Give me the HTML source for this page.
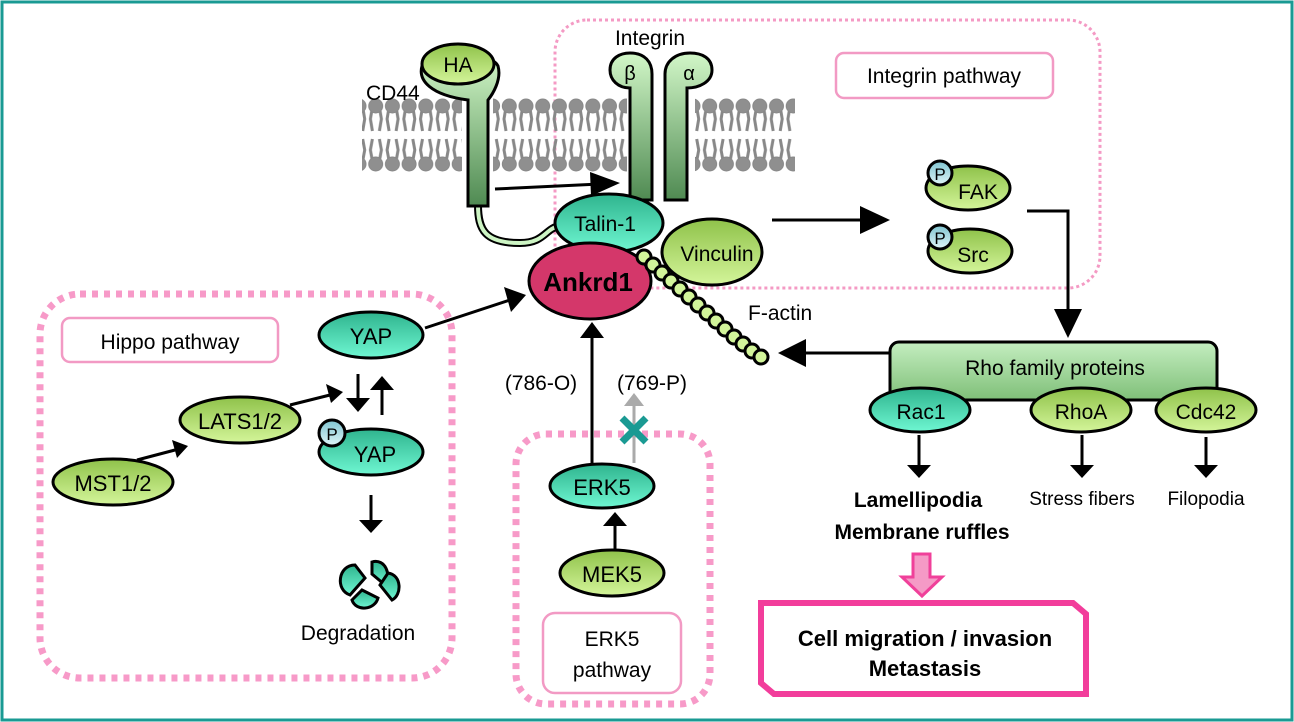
<!DOCTYPE html>
<html><head><meta charset="utf-8"><style>
html,body{margin:0;padding:0;background:#fff}
svg{display:block;font-family:"Liberation Sans",Arial,sans-serif}
</style></head><body>
<svg width="1294" height="722" viewBox="0 0 1294 722" xmlns="http://www.w3.org/2000/svg">
<defs>
<linearGradient id="gG" x1="0" y1="0" x2="0" y2="1"><stop offset="0" stop-color="#8fc24a"/><stop offset="1" stop-color="#d4f59a"/></linearGradient>
<linearGradient id="gT" x1="0" y1="0" x2="0" y2="1"><stop offset="0" stop-color="#2fb48e"/><stop offset="1" stop-color="#6ff7d2"/></linearGradient>
<linearGradient id="gS" x1="0" y1="0" x2="0" y2="1"><stop offset="0" stop-color="#d2f7c8"/><stop offset="1" stop-color="#4f8a52"/></linearGradient>
<linearGradient id="gR" x1="0" y1="0" x2="0" y2="1"><stop offset="0" stop-color="#c4eec0"/><stop offset="1" stop-color="#7fbf78"/></linearGradient>
<linearGradient id="gP" x1="0" y1="0" x2="0" y2="1"><stop offset="0" stop-color="#7fc4d0"/><stop offset="1" stop-color="#dff6f8"/></linearGradient>
<pattern id="lip" x="0" y="95" width="16.7" height="80" patternUnits="userSpaceOnUse">
<g stroke="#888" stroke-width="3" fill="none">
<path d="M5 12 L3 24 L5 36 M12 12 L14 24 L12 36 M5 44 L3 55 L5 66 M12 44 L14 55 L12 66"/></g>
<circle cx="8.3" cy="11" r="7" fill="#8f8f8f" stroke="#888"/>
<circle cx="8.3" cy="69" r="7" fill="#8f8f8f" stroke="#888"/>
</pattern>
</defs>
<rect x="2" y="2" width="1290" height="718" fill="#fff" stroke="#1a9a93" stroke-width="3"/>

<rect x="555" y="20" width="545" height="268" rx="32" fill="none" stroke="#f49ac4" stroke-width="3" stroke-dasharray="3 3"/>
<rect x="836" y="53" width="217" height="45" rx="8" fill="#fff" stroke="#f29ac4" stroke-width="2.5"/>
<text x="944" y="83" font-size="21" text-anchor="middle">Integrin pathway</text>
<rect x="40" y="294" width="412" height="384" rx="40" fill="none" stroke="#f79ac8" stroke-width="7" stroke-dasharray="6 6"/>
<rect x="62" y="318" width="216" height="44" rx="8" fill="#fff" stroke="#f29ac4" stroke-width="2.5"/>
<text x="170" y="349" font-size="21" text-anchor="middle">Hippo pathway</text>
<rect x="516" y="434" width="194" height="270" rx="30" fill="none" stroke="#f79ac8" stroke-width="7" stroke-dasharray="6 6"/>
<rect x="543" y="613" width="138" height="80" rx="12" fill="#fff" stroke="#f29ac4" stroke-width="2.5"/>
<text x="612" y="646" font-size="21" text-anchor="middle">ERK5</text>
<text x="612" y="677" font-size="21" text-anchor="middle">pathway</text>

<rect x="362" y="95" width="100" height="80" fill="url(#lip)"/>
<rect x="493" y="95" width="134" height="80" fill="url(#lip)"/>
<rect x="695" y="95" width="100" height="80" fill="url(#lip)"/>

<text x="366" y="100" font-size="21">CD44</text>
<path d="M478 205 C478 230 485 243 520 243 C545 243 545 228 560 226" fill="none" stroke="#000" stroke-width="8"/>
<path d="M478 205 C478 230 485 243 520 243 C545 243 545 228 560 226" fill="none" stroke="#cdf5c4" stroke-width="4"/>
<path d="M468 206 L468 100 C430 95 418 80 422 66 C430 50 490 50 498 66 C502 80 492 95 488 100 L488 206 Z" fill="url(#gS)" stroke="#000" stroke-width="3"/>
<ellipse cx="458" cy="64" rx="36" ry="20" fill="url(#gG)" stroke="#000" stroke-width="3"/>
<text x="458" y="72" font-size="21" text-anchor="middle">HA</text>
<line x1="495" y1="189" x2="600" y2="184" stroke="#000" stroke-width="3"/>
<path d="M590 172 L620 183 L591 196z" fill="#000"/>

<text x="650" y="45" font-size="21" text-anchor="middle">Integrin</text>
<path d="M630 200 L630 88 C618 88 610 80 610 70 C610 58 620 53 630 53 C645 53 652 62 652 74 L652 200 Z" fill="url(#gS)" stroke="#000" stroke-width="3"/>
<text x="630" y="80" font-size="20" text-anchor="middle">β</text>
<path d="M687 200 L687 88 C699 88 712 82 712 70 C712 58 702 53 690 53 C675 53 665 62 665 74 L665 200 Z" fill="url(#gS)" stroke="#000" stroke-width="3"/>
<text x="689" y="80" font-size="20" text-anchor="middle">α</text>

<ellipse cx="712" cy="252" rx="50" ry="33" fill="url(#gG)" stroke="#000" stroke-width="3"/>
<text x="717" y="261" font-size="21" text-anchor="middle">Vinculin</text>
<ellipse cx="609" cy="223" rx="54" ry="29" fill="url(#gT)" stroke="#000" stroke-width="3"/>
<text x="605" y="231" font-size="21" text-anchor="middle">Talin-1</text>
<ellipse cx="590" cy="281" rx="61" ry="38" fill="#d4376a" stroke="#000" stroke-width="3"/>
<text x="588" y="291" font-size="26" font-weight="bold" text-anchor="middle">Ankrd1</text>
<g fill="#d2f59a" stroke="#000" stroke-width="3">
<circle cx="644" cy="257" r="7"/><circle cx="653" cy="265" r="7"/><circle cx="662" cy="273" r="7"/><circle cx="671" cy="281" r="7"/><circle cx="680" cy="289" r="7"/><circle cx="689" cy="297" r="7"/><circle cx="698" cy="305" r="7"/><circle cx="707" cy="313" r="7"/><circle cx="716" cy="321" r="7"/><circle cx="725" cy="329" r="7"/><circle cx="734" cy="337" r="7"/><circle cx="743" cy="344" r="7"/><circle cx="752" cy="351" r="7"/><circle cx="761" cy="357" r="7"/>
</g>
<text x="748" y="320" font-size="21">F-actin</text>

<line x1="772" y1="220" x2="868" y2="220" stroke="#000" stroke-width="3"/>
<path d="M860 206 L890 220 L860 234z" fill="#000"/>
<ellipse cx="968" cy="188" rx="42" ry="22" fill="url(#gG)" stroke="#000" stroke-width="3"/>
<circle cx="940" cy="173" r="12" fill="url(#gP)" stroke="#000" stroke-width="3"/>
<text x="940" y="180" font-size="17" text-anchor="middle">P</text>
<text x="978" y="199" font-size="21" text-anchor="middle">FAK</text>
<ellipse cx="970" cy="251" rx="42" ry="22" fill="url(#gG)" stroke="#000" stroke-width="3"/>
<circle cx="940" cy="237" r="12" fill="url(#gP)" stroke="#000" stroke-width="3"/>
<text x="940" y="244" font-size="17" text-anchor="middle">P</text>
<text x="973" y="262" font-size="21" text-anchor="middle">Src</text>
<polyline points="1027,211 1068,211 1068,315" fill="none" stroke="#000" stroke-width="3"/>
<path d="M1054 309 L1068 338 L1082 309z" fill="#000"/>

<rect x="890" y="342" width="327" height="58" rx="9" fill="url(#gR)" stroke="#000" stroke-width="3"/>
<text x="1055" y="375" font-size="21" text-anchor="middle">Rho family proteins</text>
<line x1="890" y1="353" x2="800" y2="353" stroke="#000" stroke-width="3"/>
<path d="M806 339 L778 353 L806 367z" fill="#000"/>
<ellipse cx="920" cy="410" rx="50" ry="22" fill="url(#gT)" stroke="#000" stroke-width="3"/>
<text x="921" y="419" font-size="21" text-anchor="middle">Rac1</text>
<ellipse cx="1081" cy="410" rx="50" ry="22" fill="url(#gG)" stroke="#000" stroke-width="3"/>
<text x="1081" y="419" font-size="21" text-anchor="middle">RhoA</text>
<ellipse cx="1206" cy="410" rx="50" ry="22" fill="url(#gG)" stroke="#000" stroke-width="3"/>
<text x="1206" y="419" font-size="21" text-anchor="middle">Cdc42</text>
<g stroke="#000" stroke-width="3"><line x1="919" y1="435" x2="919" y2="466"/><line x1="1082" y1="435" x2="1082" y2="466"/><line x1="1206" y1="437" x2="1206" y2="466"/></g>
<g fill="#000"><path d="M907 465 L919 478 L931 465z"/><path d="M1070 465 L1082 478 L1094 465z"/><path d="M1194 465 L1206 478 L1218 465z"/></g>
<text x="918" y="507" font-size="21" font-weight="bold" text-anchor="middle">Lamellipodia</text>
<text x="922" y="539" font-size="21" font-weight="bold" text-anchor="middle">Membrane ruffles</text>
<text x="1082" y="505" font-size="19" text-anchor="middle">Stress fibers</text>
<text x="1206" y="505" font-size="19" text-anchor="middle">Filopodia</text>
<path d="M913 554 L930 554 L930 577 L942 577 L922 596 L902 577 L913 577 Z" fill="#f59ac6" stroke="#f0409a" stroke-width="3"/>
<path d="M761 603 L1073 603 L1086 614 L1086 694 L774 694 L761 683 Z" fill="#fff" stroke="#f23d9b" stroke-width="6"/>
<text x="925" y="646" font-size="22" font-weight="bold" text-anchor="middle">Cell migration / invasion</text>
<text x="925" y="676" font-size="22" font-weight="bold" text-anchor="middle">Metastasis</text>

<ellipse cx="371" cy="335" rx="52" ry="23" fill="url(#gT)" stroke="#000" stroke-width="3"/>
<text x="371" y="344" font-size="22" text-anchor="middle">YAP</text>
<line x1="425" y1="328" x2="510" y2="300" stroke="#000" stroke-width="3"/>
<path d="M504 287 L526 295 L511 312z" fill="#000"/>
<g stroke="#000" stroke-width="3"><line x1="358" y1="374" x2="358" y2="400"/><line x1="382" y1="415" x2="382" y2="388"/></g>
<path d="M346 398 L358 412 L370 398z" fill="#000"/><path d="M370 390 L382 376 L394 390z" fill="#000"/>
<ellipse cx="371" cy="452" rx="52" ry="23" fill="url(#gT)" stroke="#000" stroke-width="3"/>
<circle cx="332" cy="433" r="13" fill="url(#gP)" stroke="#000" stroke-width="3"/>
<text x="332" y="440" font-size="17" text-anchor="middle">P</text>
<text x="375" y="462" font-size="22" text-anchor="middle">YAP</text>
<ellipse cx="240" cy="420" rx="60" ry="23" fill="url(#gG)" stroke="#000" stroke-width="3"/>
<text x="240" y="429" font-size="22" text-anchor="middle">LATS1/2</text>
<ellipse cx="113" cy="482" rx="60" ry="23" fill="url(#gG)" stroke="#000" stroke-width="3"/>
<text x="113" y="491" font-size="22" text-anchor="middle">MST1/2</text>
<line x1="137" y1="460" x2="175" y2="450" stroke="#000" stroke-width="3"/>
<path d="M172 440 L188 446 L177 458z" fill="#000"/>
<line x1="290" y1="405" x2="330" y2="395" stroke="#000" stroke-width="3"/>
<path d="M326 384 L343 392 L331 403z" fill="#000"/>
<line x1="371" y1="495" x2="371" y2="520" stroke="#000" stroke-width="3"/>
<path d="M359 520 L371 533 L383 520z" fill="#000"/>
<g fill="url(#gT)" stroke="#000" stroke-width="3">
<path d="M355 565 C338 565 335 590 350 595 L365 578 Z"/>
<path d="M372 562 C385 558 392 575 385 585 L372 574 Z"/>
<path d="M352 600 C356 612 375 610 378 598 L362 590 Z"/>
<path d="M388 573 C402 575 402 595 392 600 L380 585 Z"/>
</g>
<text x="358" y="640" font-size="21" text-anchor="middle">Degradation</text>

<line x1="592" y1="463" x2="592" y2="338" stroke="#000" stroke-width="3"/>
<path d="M580 338 L592 322 L604 338z" fill="#000"/>
<text x="541" y="390" font-size="21" text-anchor="middle">(786-O)</text>
<text x="652" y="390" font-size="21" text-anchor="middle">(769-P)</text>
<line x1="634" y1="463" x2="634" y2="405" stroke="#aaa" stroke-width="3"/>
<path d="M624 406 L634 393 L644 406z" fill="#aaa"/>
<g stroke="#1a9a93" stroke-width="7"><line x1="622" y1="418" x2="646" y2="442"/><line x1="646" y1="418" x2="622" y2="442"/></g>
<ellipse cx="602" cy="486" rx="52" ry="22" fill="url(#gT)" stroke="#000" stroke-width="3"/>
<text x="602" y="495" font-size="22" text-anchor="middle">ERK5</text>
<line x1="615" y1="550" x2="615" y2="524" stroke="#000" stroke-width="3"/>
<path d="M603 526 L615 512 L627 526z" fill="#000"/>
<ellipse cx="612" cy="573" rx="52" ry="23" fill="url(#gG)" stroke="#000" stroke-width="3"/>
<text x="612" y="582" font-size="22" text-anchor="middle">MEK5</text>
</svg>
</body></html>
